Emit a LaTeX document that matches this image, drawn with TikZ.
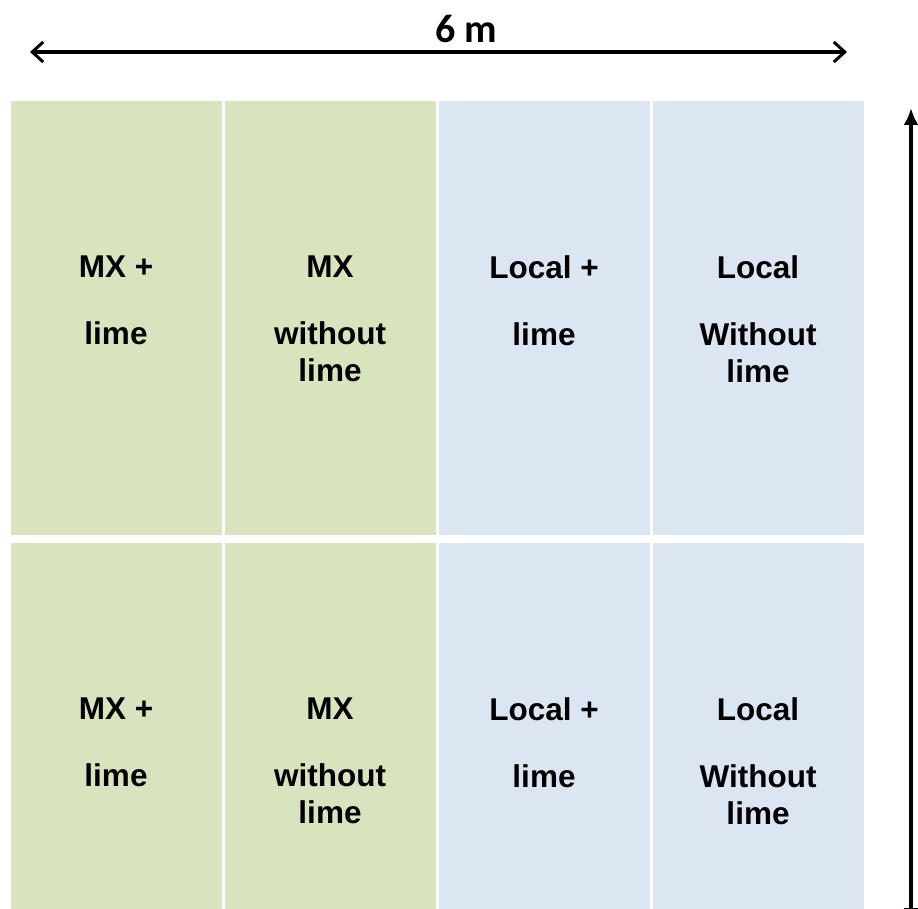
\documentclass[tikz,border=0pt]{standalone}
\usepackage{fontspec}
\setmainfont{Liberation Sans}
\newfontfamily\dimfont{Carlito}
\usetikzlibrary{arrows.meta}
\definecolor{mxgreen}{HTML}{D7E4BD}
\definecolor{localblue}{HTML}{DCE6F2}

\begin{document}
\begin{tikzpicture}[
    x=1pt, y=-1pt,
    cell/.style={draw=none, minimum width=211pt, minimum height=434pt, inner sep=0pt},
    lbl/.style={anchor=north, align=center, inner sep=0pt, font=\fontsize{31.5}{37}\selectfont\bfseries},
    dimarr/.style={{Straight Barb[length=11pt,width=20pt,line width=3pt]}-{Straight Barb[length=11pt,width=20pt,line width=3pt]}, line width=3.2pt},
    hgtarr/.style={{Latex[length=17pt,width=15pt]}-{Latex[length=17pt,width=15pt]}, line width=4pt},
]
\useasboundingbox (0,0) rectangle (918,909);
\clip (0,0) rectangle (918,909);

% plots, top row
\node[cell, fill=mxgreen] (c11) at (116,318) {};
\node[cell, fill=mxgreen] (c12) at (330,318) {};
\node[cell, fill=localblue] (c13) at (544,318) {};
\node[cell, fill=localblue] (c14) at (758,318) {};

% plots, bottom row
\node[cell, fill=mxgreen] (c21) at (116,760) {};
\node[cell, fill=mxgreen] (c22) at (330,760) {};
\node[cell, fill=localblue] (c23) at (544,760) {};
\node[cell, fill=localblue] (c24) at (758,760) {};

\foreach \r in {1,2} {
  \node[lbl] (t\r1) at ([yshift=-155pt]c\r1.north) {MX +\\[30pt]lime};
  \node[lbl] (t\r2) at ([yshift=-155pt]c\r2.north) {MX\\[30pt]without\\lime};
  \node[lbl] (t\r3) at ([yshift=-155pt]c\r3.north) {Local +\\[30pt]lime};
  \node[lbl] (t\r4) at ([yshift=-155pt]c\r4.north) {Local\\[30pt]Without\\lime};
}

% width
\coordinate (wl) at (30,52);
\coordinate (wr) at (847,52);
\draw[dimarr] (wl) -- (wr);
\node[anchor=base, inner sep=0pt, font=\dimfont\bfseries\fontsize{40}{48}\selectfont] (wlab) at (466,43) {6 m};

% height
\coordinate (ht) at (911,108);
\coordinate (hb) at (911,925);
\draw[hgtarr] (hb) -- (ht);

\end{tikzpicture}
\end{document}
